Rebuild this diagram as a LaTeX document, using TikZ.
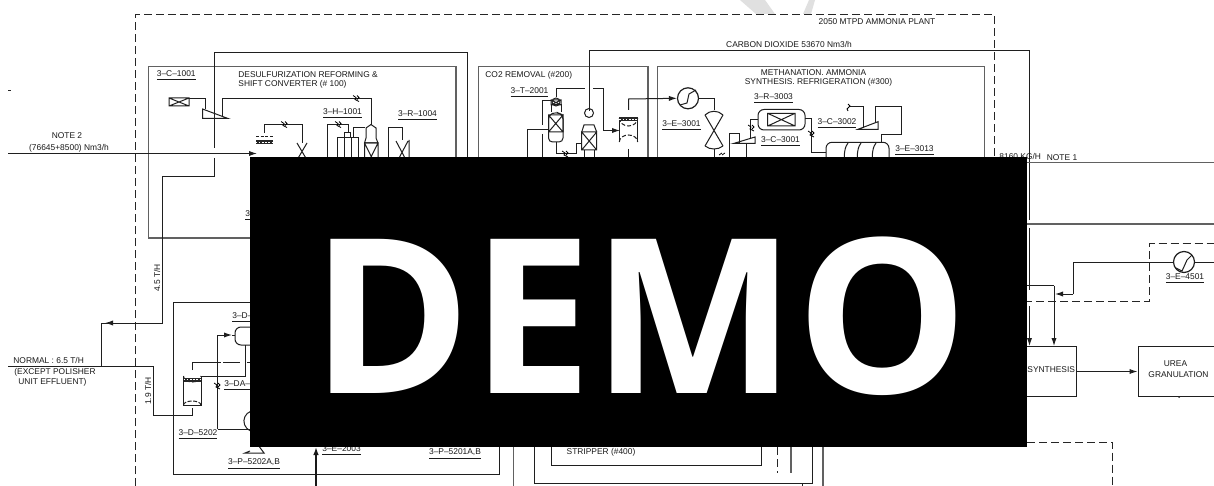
\documentclass[tikz,border=0pt]{standalone}
\usepackage{fontspec}
\setmainfont{Liberation Sans}
\newfontfamily\demofont{Open Sans}
\usetikzlibrary{arrows.meta}
\tikzset{
 x=0.5pt,y=-0.5pt,
 ln/.style={line width=.5pt,color=black!88},
 gln/.style={line width=.7pt,color=black!62},
 dsh/.style={line width=.5pt,color=black!85,dash pattern=on 4pt off 2pt},
 arr/.style={-{Latex[length=4pt,width=2.6pt]}},
 lbl/.style={inner sep=0pt,font=\fontsize{4.2}{5}\selectfont,text=black!90,align=center},
 blockbox/.style={draw=black!88,line width=.5pt,inner sep=0pt,anchor=north west},
 wig/.pic={\draw[line width=.4pt] (-3,-3) -- (0,-1) -- (-1,1) -- (3,3) (1,-3) -- (3,-1) -- (1,1);}
}
\newcommand{\xb}[4]{\draw[ln] (#1,#2) rectangle (#3,#4) (#1,#2) -- (#3,#4) (#3,#2) -- (#1,#4);}
\newcommand{\hatchbar}[4]{\fill[black!85] (#1,#2) rectangle (#3,#4);\draw[white,line width=.35pt,dash pattern=on .8pt off .8pt] (#1,{(#2+#4)/2}) -- (#3,{(#2+#4)/2});}
\begin{document}
\begin{tikzpicture}
\useasboundingbox (0,0) rectangle (1214,486);
\fill[white] (0,0) rectangle (1214,486);
% watermark traces
\fill[black!12] (740,0) -- (765,0) -- (775,14) -- (756,14) -- cycle;
\fill[black!12] (803,14) -- (809,0) -- (815,0) -- (811,14) -- cycle;
% plant limits
\draw[dsh] (135.5,486) -- (135.5,14.5) -- (994,14.5) -- (994,170);
\draw[dsh] (1027,442) -- (1112.5,442) -- (1112.5,486);
\draw[dsh] (1000,301) -- (1149.5,301) -- (1149.5,243.7) -- (1214,243.7);
% boxes
\draw[gln] (250,238) -- (148.5,238) -- (148.5,66.5) -- (456,66.5) -- (456,170);
\draw[gln] (478.5,170) -- (478.5,66.5) -- (648,66.5) -- (648,170);
\draw[gln] (657.7,170) -- (657.7,66.5) -- (984.5,66.5) -- (984.5,170);
\draw[ln] (250,302.5) -- (173.5,302.5) -- (173.5,474.5) -- (499,474.5) -- (499,440);
\draw[gln] (513.5,440) -- (513.5,486);
\draw[ln] (534,440) -- (534,483) -- (812,483) -- (812,440);
\draw[ln] (551.5,440) -- (551.5,465) -- (761.7,465) -- (761.7,440);
\draw[dsh] (777.7,447) -- (777.7,473);
\draw[gln] (791,440) -- (791,473);
\draw[gln] (823,440) -- (823,486);
\draw[ln] (802.7,483) -- (802.7,486);
% steam / process loop
\draw[ln] (214.5,148) -- (214.5,53) -- (467,53) -- (467,170);
\draw[ln] (214.5,158) -- (214.5,177) -- (162.5,177) -- (162.5,323) -- (101.5,323) -- (101.5,366);
\draw[ln,arr] (125,323) -- (105,323);
% feed
\coordinate (feedS) at (8,153.5);\coordinate (feedE) at (257,153.5);
\draw[ln,arr] (feedS) -- (feedE);
\draw[black!85,line width=.6pt] (8,90.5) -- (11,90.5);
% section 100
\xb{169}{98}{189}{106}
\draw[ln] (189,98.5) -- (205,98.5) -- (205,109);
\draw[ln] (202.5,109) -- (228,118.5) -- (202.5,118.5) -- cycle;
\draw[ln] (222.5,116.5) -- (222.5,98.5) -- (371,98.5) -- (371,125);
\pic at (356,98.5) {wig};
\draw[ln] (264.5,133) -- (264.5,124.5) -- (302,124.5) -- (302,143);
\pic at (284,124.5) {wig};
\draw[ln,dash pattern=on 1.5pt off .8pt] (256,136.5) -- (273,136.5);
\hatchbar{255.5}{140}{273}{144}
\draw[ln] (297,143) -- (307,160) (307,143) -- (297,160);
\draw[ln] (327.5,170) -- (327.5,124.5) -- (348,124.5) -- (348,133);
\pic at (338,124.5) {wig};
\draw[ln] (337.5,170) -- (337.5,137.5) -- (358,137.5) -- (358,170);
\draw[ln] (344,170) -- (344,137.5) (351,170) -- (351,137.5) (344.5,137.5) -- (344.5,133) -- (350,133) -- (350,137.5);
\draw[ln] (353.5,137.5) -- (353.5,128) -- (365,128);
\draw[ln] (366,138) -- (366,128) -- (371,124.5) -- (376,128) -- (376,138) -- (378,143) -- (364.5,143) -- cycle;
\xb{364.5}{143}{378}{170}
\draw[ln] (388.5,170) -- (388.5,127.5) -- (402,127.5) -- (402,140);
\draw[ln] (396,141) -- (406,160) (408,141) -- (398,160) (409,140) -- (409,170);
% section 200
\draw[ln] (556,97) -- (556,88.5) -- (585,88.5);
\draw[ln,arr] (593,88.5) -- (603,88.5) -- (603,130.5) -- (620,130.5);
\draw[ln] (589,111) -- (589,50.5) -- (1029.5,50.5) -- (1029.5,170);
\draw[ln] (551,101) -- (542.7,101) -- (542.7,125) (542.7,134) -- (542.7,170);
\draw[ln] (548,129.5) -- (527.7,129.5) -- (527.7,170);
\draw[ln] (551,112) -- (551,105) -- (561,105) -- (561,112);
\draw[ln] (556,102) circle (4);
\xb{551}{100}{561}{105}
\draw[ln,rounded corners=2pt] (548.5,115) -- (548.5,142) -- (563,142) -- (563,115) -- (556,112) -- cycle;
\xb{548.5}{115}{563}{132}
\draw[ln] (556,142) -- (556,153.5) -- (576,153.5) -- (576,144) -- (582,144);
\pic at (565,154) {wig};
\draw[ln] (589,113) circle (4.5);
\draw[ln] (581.7,132) -- (584,125) -- (594,125) -- (596.7,132);
\xb{581.7}{132}{596.7}{150}
\draw[ln] (584,150) -- (584,170) (594,150) -- (594,170);
\draw[ln,dash pattern=on 2pt off 1pt] (619.3,118) arc[start angle=180,end angle=0,x radius=9.2,y radius=8];
\draw[ln] (619.3,118) -- (619.3,142) (637.7,118) -- (637.7,142);
\draw[ln,dash pattern=on 2pt off 1pt] (619.3,142) arc[start angle=180,end angle=360,x radius=9.2,y radius=7];
\hatchbar{619.3}{117}{637.7}{121}
\draw[ln] (628.7,149) -- (628.7,170);
\node[circle,draw=black!88,line width=.6pt,minimum size=10.5pt,inner sep=0pt] (ex3001) at (688,98.3) {};
\draw[ln] (680,105) -- (687,103) -- (689,94) -- (696,90);
\draw[ln,arr] (628.7,110) -- (628.7,99) -- (ex3001.west);
\draw[ln] (ex3001.east) -- (714,98.3) -- (714,110);
\draw[ln] (705,115) -- (723,146) (723,115) -- (705,146);
\draw[ln] (705,115) .. controls (710,110) and (718,110) .. (723,115);
\draw[ln] (705,146) .. controls (710,150) and (718,150) .. (723,146);
\draw[ln] (714,149) -- (714,170);
\draw[line width=.4pt] (719,155) -- (722,153) (722,155) -- (725,153);
% section 300
\draw[ln] (729,170) -- (729,133.5) -- (739,133.5) -- (739,143);
\draw[ln] (733.5,143.5) -- (755,137) -- (755,143.5) -- cycle;
\draw[ln] (746,143.5) -- (746,170);
\draw[ln] (750.5,138) -- (750.5,120) -- (758,120);
\pic at (751,128) {wig};
\draw[ln,rounded corners=3pt] (758,109.5) rectangle (805,130);
\xb{767.7}{113.3}{795}{126}
\draw[ln] (805,119) -- (811,119) -- (811,152.3) -- (826,152.3);
\pic at (811,134) {wig};
\draw[ln] (858,129.3) -- (878,121.7) -- (878,129.3) -- cycle;
\draw[ln] (863.3,128) -- (863.3,106.7) -- (850,106.7);
\draw[line width=.45pt] (848,104) -- (850,106) -- (847,109) -- (848,111);
\draw[ln] (875,123) -- (875,106.7) -- (901.7,106.7) -- (901.7,135) -- (881.7,135) -- (881.7,142);
\draw[ln,rounded corners=3pt] (826,170) -- (826,142.3) -- (889,142.3) -- (889,170);
\draw[ln] (845,170) .. controls (843,155) and (845,146) .. (848,143);
\draw[ln] (858,170) .. controls (856,155) and (858,146) .. (861,143);
\draw[ln] (873,170) .. controls (871,155) and (873,146) .. (876,143);
% lower left unit
\draw[ln] (8,366) -- (153.5,366) -- (153.5,415) -- (192,415) -- (192,408);
\draw[ln] (183.5,376) -- (183.5,405) -- (201,405) -- (201,376);
\draw[ln,dash pattern=on 2pt off .8pt] (183.5,376) arc[start angle=180,end angle=0,x radius=8.7,y radius=6];
\draw[ln,dash pattern=on 2pt off .8pt] (183.5,405) arc[start angle=180,end angle=360,x radius=8.7,y radius=4];
\hatchbar{183.5}{377.5}{201}{382}
\draw[ln] (192,370) -- (192,362) -- (221,362) (223,362) -- (240,362) (247,362) -- (260,362);
\draw[ln] (201,376) -- (245,376) -- (245,345);
\draw[ln,rounded corners=3pt] (260,327) -- (235,327) -- (235,345) -- (260,345);
\draw[ln,arr] (217.5,429) -- (217.5,335) -- (232,335);
\draw[ln] (232,335) -- (235,335);
\draw[ln] (217.5,429) -- (260,429);
\pic at (217,386) {wig};
\draw[ln] (258,431) arc[start angle=70,end angle=250,radius=10.5];
\draw[ln] (250,451) -- (245,453) -- (264,453) -- (258,445);
% heavy feed at bottom
\draw[line width=.8pt,black!90,-{Latex[length=4pt,width=2.8pt]}] (316,486) -- (316,447);
% right side
\draw[ln] (1029.5,166) -- (1029.5,220);
\draw[ln] (1029.5,228) -- (1029.5,290);
\draw[ln] (1000,285.7) -- (1054,285.7);
\draw[gln] (1000,162.7) -- (1214,162.7);
\draw[gln] (1000,224) -- (1214,224);
\node[blockbox,minimum width=49.35pt,minimum height=25pt] (syn) at (977,346) {};
\node[blockbox,minimum width=38.5pt,minimum height=25pt] (urea) at (1137.5,346) {};
\draw[ln,arr] (1054,285.7) -- (1054,346);
\draw[ln,arr] (1029.5,306) -- (1029.5,346);
\draw[ln,arr] (syn.east) -- (urea.west);
\fill[black!85] (1179,397) circle (1);
\node[circle,draw=black!88,line width=.6pt,minimum size=10.5pt,inner sep=0pt] (ex4501) at (1184,262) {};
\coordinate (hwR) at (1214,262);
\coordinate (hwM) at (1073.3,262);
\coordinate (hwB) at (1073.3,294);
\draw[ln] (hwR) -- (ex4501.east);
\draw[ln] (ex4501.west) -- (hwM) -- (hwB);
\draw[ln,arr] (hwB) -- (1055,294);
\draw[ln] (1176,268) -- (1182,271) -- (1187,260) -- (1192,255);
% texts
\node[lbl] (t2050) at (877,22) {2050 MTPD AMMONIA PLANT};
\node[lbl] (tco2) at (789,44.5) {CARBON DIOXIDE 53670 Nm3/h};
\node[lbl,anchor=west] (tc1001) at (156.5,75.5) {\underline{3--C--1001}};
\node[lbl,anchor=west] (tdes) at (238,75) {DESULFURIZATION REFORMING \&};
\node[lbl,anchor=west] (tshift) at (238,84.5) {SHIFT CONVERTER (\# 100)};
\node[lbl] (th1001) at (342.5,113.5) {\underline{3--H--1001}};
\node[lbl] (tr1004) at (417.5,116) {\underline{3--R--1004}};
\node[lbl] (tnote2) at (67,136) {NOTE 2};
\node[lbl] (tflow) at (69,148.5) {(76645+8500) Nm3/h};
\node[lbl,anchor=west] (t3) at (245,216) {\underline{3}};
\node[lbl,anchor=west] (trem) at (485,75) {CO2 REMOVAL (\#200)};
\node[lbl] (tt2001) at (529.5,93) {\underline{3--T--2001}};
\node[lbl] (tmeth) at (813.5,73) {METHANATION. AMMONIA};
\node[lbl] (tsyn) at (818.5,82.7) {SYNTHESIS. REFRIGERATION (\#300)};
\node[lbl] (tr3003) at (773.5,99) {\underline{3--R--3003}};
\node[lbl] (te3001) at (681.5,126) {\underline{3--E--3001}};
\node[lbl] (tc3002) at (837,123.5) {\underline{3--C--3002}};
\node[lbl] (tc3001) at (780.5,141.7) {\underline{3--C--3001}};
\node[lbl] (te3013) at (914.5,150.7) {\underline{3--E--3013}};
\node[lbl,anchor=west] (tkg) at (999,156) {8160 KG/H};
\node[lbl] (tnote1) at (1062,158) {NOTE 1};
\node[lbl] (te4501) at (1185,279) {\underline{3--E--4501}};
\node[lbl,anchor=west] (tsynth) at (1027,370) {SYNTHESIS};
\node[lbl] (turea) at (1175.5,364) {UREA};
\node[lbl] (tgran) at (1178.5,375) {GRANULATION};
\node[lbl,anchor=west] (tnorm) at (13,360.5) {NORMAL : 6.5 T/H};
\node[lbl,anchor=west] (texc) at (14,372) {(EXCEPT POLISHER};
\node[lbl,anchor=west] (tunit) at (18,382.5) {UNIT EFFLUENT)};
\node[lbl,rotate=90] (t45) at (157,278) {4.5 T/H};
\node[lbl,rotate=90] (t19) at (148,391) {1.9 T/H};
\node[lbl] (td5202) at (198,435) {\underline{3--D--5202}};
\node[lbl] (tp5202) at (254,464) {\underline{3--P--5202A,B}};
\node[lbl,anchor=west] (tda) at (224,386) {\underline{3--DA--5201}};
\node[lbl,anchor=west] (td) at (232,318) {\underline{3--D--5201}};
\node[lbl,anchor=west] (te2003) at (322,451) {\underline{3--E--2003}};
\node[lbl] (tp5201) at (455,454.5) {\underline{3--P--5201A,B}};
\node[lbl] (tstrip) at (601,452.5) {STRIPPER (\#400)};
% demo banner
\node[fill=black,minimum width=388.5pt,minimum height=145pt,inner sep=0pt,anchor=north west] (banner) at (250,157) {};
\node[text=white,inner sep=0pt,anchor=base,font=\demofont\bfseries\fontsize{108}{108}\selectfont] (demo) at (640,393) {DEMO};
\end{tikzpicture}
\end{document}
